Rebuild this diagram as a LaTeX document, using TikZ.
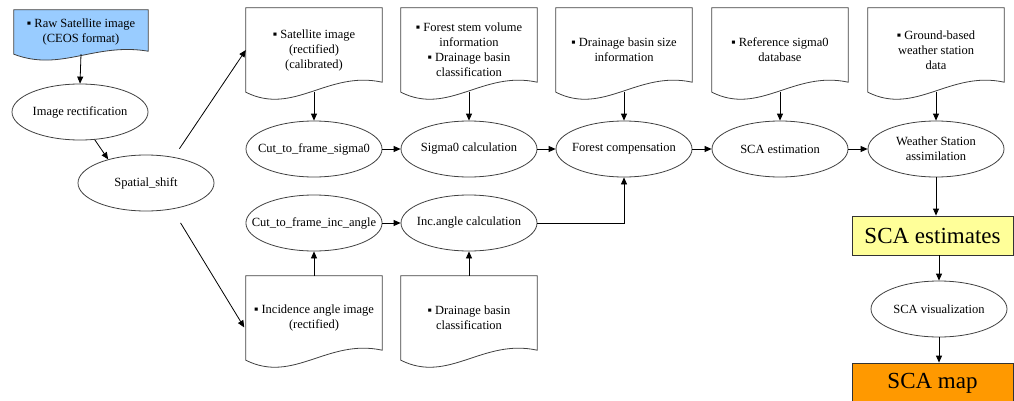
\documentclass[tikz,border=0pt]{standalone}
\usepackage{fontspec}
\setmainfont{Liberation Serif}
\usetikzlibrary{
	arrows.meta,
	positioning,
	calc,
	shapes.geometric,
	backgrounds
}
\definecolor{rawblue}{HTML}{99CCFF}
\definecolor{estyellow}{HTML}{FFFF99}
\definecolor{maporange}{HTML}{FF9900}

\begin{document}
\begin{tikzpicture}[
		x=1pt, y=1pt,
		>={Triangle[length=7pt,width=6pt]},
		proc/.style={
			ellipse,
			draw=black!75,
			line width=0.8pt,
			minimum width=136pt,
			minimum height=56pt,
			inner xsep=-14pt,
			inner ysep=0pt,
			align=center,
			font=\fontsize{12.5}{15}\selectfont
		},
		doc/.style={
			rectangle,
			minimum width=136pt,
			minimum height=84pt,
			inner sep=0pt,
			align=center,
			font=\fontsize{12.5}{15}\selectfont
		},
		docline/.style={
			draw=black!75,
			line width=0.8pt
		},
		result/.style={
			rectangle,
			draw=black!80,
			line width=0.8pt,
			minimum width=161pt,
			minimum height=39pt,
			inner sep=0pt,
			font=\fontsize{23}{26}\selectfont
		},
		flow/.style={
			->,
			line width=0.8pt
		}
		]
		
		\useasboundingbox (0,0) rectangle (1014,400);
		
		% Input chain
		\node[doc, minimum width=134pt, minimum height=44pt] (raw) at (81,368) {▪ Raw Satellite image\\(CEOS format)};
		\node[proc] (rectif) at (80,288) {Image rectification};
		\node[proc] (shift) at (146,217) {Spatial\_shift};
		
		% Documents, top row
		\node[doc] (sat) at (314,350) {▪ Satellite image\\(rectified)\\(calibrated)};
		\node[doc] (stem) at (469,350) {▪ Forest stem volume\\information\\▪ Drainage basin\\classification};
		\node[doc] (size) at (624,350) {▪ Drainage basin size\\information};
		\node[doc] (refdb) at (780,350) {▪ Reference sigma0\\database};
		\node[doc] (ground) at (936,350) {▪ Ground-based\\weather station\\data};
		
		% Processing, top row
		\node[proc] (cutsig) at (314,251) {Cut\_to\_frame\_sigma0};
		\node[proc] (sigcalc) at (469,251) {Sigma0 calculation};
		\node[proc] (forest) at (624,251) {Forest compensation};
		\node[proc] (scaest) at (780,251) {SCA estimation};
		\node[proc] (weather) at (936,251) {Weather Station\\assimilation};
		
		% Processing, bottom row
		\node[proc] (cutinc) at (314,177) {Cut\_to\_frame\_inc\_angle};
		\node[proc] (inccalc) at (469,177) {Inc.angle calculation};
		
		% Documents, bottom row
		\node[doc] (incimg) at (314,82) {▪ Incidence angle image\\(rectified)};
		\node[doc] (basin) at (469,82) {▪ Drainage basin\\classification};
		
		% Results
		\node[result, fill=estyellow] (estimates) at (932.5,164.5) {SCA estimates};
		\node[proc] (visual) at (939,91) {SCA visualization};
		\node[result, fill=maporange, minimum height=40pt] (map) at (932.5,17) {SCA map};
		
		% Document outlines
		\begin{scope}[on background layer]
			\filldraw[docline, fill=rawblue] (raw.south west) -- (raw.north west) -- (raw.north east) -- ([yshift=3pt]raw.south east)
			.. controls ($(raw.south west)!0.6!(raw.south east)+(0,12)$) and ($(raw.south west)!0.35!(raw.south east)+(0,-18)$) .. (raw.south west) -- cycle;
		\end{scope}
		\foreach \d in {sat,stem,size,refdb,ground,incimg,basin}
		\draw[docline] (\d.south west) -- (\d.north west) -- (\d.north east) -- ([yshift=10pt]\d.south east)
		.. controls ($(\d.south west)!0.6!(\d.south east)+(0,22)$) and ($(\d.south west)!0.35!(\d.south east)+(0,-24)$) .. (\d.south west) -- cycle;
		
		% Connections
		\draw[flow] (raw.south) -- (rectif.north);
		\draw[flow] (rectif.-62) -- (shift.148);
		\draw[flow, shorten <=10pt] (shift.43) -- (sat.west);
		\draw[flow, shorten <=16pt, shorten >=3pt] (shift.-45) -- ([yshift=-12pt]incimg.west);
		
		\foreach \d/\p in {sat/cutsig,stem/sigcalc,size/forest,refdb/scaest,ground/weather}
		\draw[flow] (\d.south) -- (\p.north);
		
		\draw[flow] (cutsig) -- (sigcalc);
		\draw[flow] (sigcalc) -- (forest);
		\draw[flow] (forest) -- (scaest);
		\draw[flow] (scaest) -- (weather);
		
		\draw[flow] (incimg.north) -- (cutinc.south);
		\draw[flow] (basin.north) -- (inccalc.south);
		\draw[flow] (cutinc) -- (inccalc);
		\draw[flow] (inccalc.east) -| (forest.south);
		
		\draw[flow] (weather.south) -- (weather.south |- estimates.north);
		\draw[flow] (visual.north |- estimates.south) -- (visual.north);
		\draw[flow] (visual.south) -- (visual.south |- map.north);
		
	\end{tikzpicture}
\end{document}
